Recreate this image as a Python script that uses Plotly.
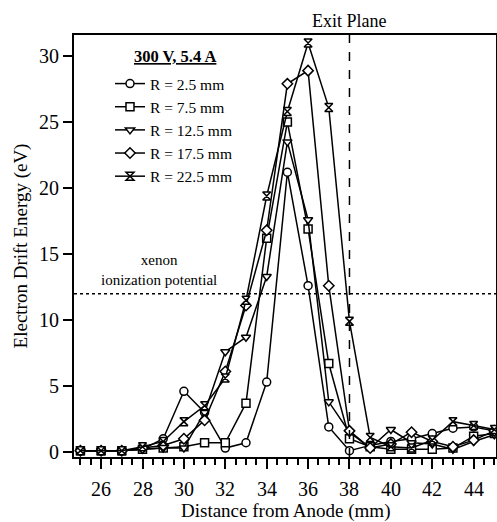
import plotly.graph_objects as go

# Axial position from the anode (mm)
distance_mm = [25, 26, 27, 28, 29, 30, 31, 32, 33, 34, 35, 36, 37, 38, 39, 40, 41, 42, 43, 44, 45]

# Electron drift energy (eV) at each radial location
energy_r2_5 = [0.1, 0.1, 0.1, 0.2, 1.0, 4.6, 3.0, 0.3, 0.7, 5.3, 21.2, 12.6, 1.9, 0.1, 0.5, 0.8, 1.0, 1.4, 1.8, 1.9, 1.6]
energy_r7_5 = [0.1, 0.1, 0.1, 0.2, 0.3, 0.4, 0.7, 0.7, 3.7, 16.2, 25.0, 16.9, 6.7, 1.0, 0.4, 0.2, 0.2, 0.2, 0.3, 1.2, 1.4]
energy_r12_5 = [0.1, 0.1, 0.1, 0.2, 0.3, 0.3, 3.0, 7.6, 8.7, 13.3, 23.5, 17.6, 3.8, 1.5, 0.3, 1.7, 0.7, 0.6, 0.2, 0.8, 1.3]
energy_r17_5 = [0.1, 0.1, 0.1, 0.3, 0.5, 1.0, 2.4, 6.1, 11.1, 16.8, 27.9, 28.9, 12.6, 1.6, 0.3, 0.6, 1.5, 0.8, 0.4, 0.9, 1.6]
energy_r22_5 = [0.1, 0.1, 0.1, 0.4, 0.8, 2.3, 3.5, 5.6, 11.5, 19.4, 25.8, 31.0, 26.1, 9.9, 1.1, 0.4, 0.3, 0.9, 2.3, 2.0, 1.7]

series_names = ["R = 2.5 mm", "R = 7.5 mm", "R = 12.5 mm", "R = 17.5 mm", "R = 22.5 mm"]
series_values = [energy_r2_5, energy_r7_5, energy_r12_5, energy_r17_5, energy_r22_5]
series_symbols = ["circle", "square", "triangle-down", "diamond", "hourglass"]

# Labelled ticks on the distance axis
x_tick_values = [26, 28, 30, 32, 34, 36, 38, 40, 42, 44]

exit_plane_mm = 38
xenon_ionization_ev = 12.0

FONT = "Liberation Serif, Times New Roman, serif"

# Plot-area geometry in pixels (figure is 497 x 522)
M_L, M_R, M_T, M_B = 74, 1, 35, 65
PLOT_H = 522 - M_T - M_B


def py(px_from_top):
    """Convert a pixel row of the figure to paper y."""
    return (522 - M_B - px_from_top) / PLOT_H


fig = go.Figure()
for name, vals, sym in zip(series_names, series_values, series_symbols):
    fig.add_trace(go.Scatter(
        x=distance_mm, y=vals, name=name, mode="lines+markers",
        line=dict(color="black", width=1.5),
        marker=dict(symbol=sym, size=8, color="white",
                    line=dict(color="black", width=1.5)),
        cliponaxis=False,
    ))

# Exit plane (vertical dashed) and xenon ionization potential (horizontal dotted)
fig.add_shape(type="line", xref="x", yref="paper", x0=exit_plane_mm, x1=exit_plane_mm,
              y0=0, y1=1, line=dict(color="black", width=1.5, dash="dash"))
fig.add_shape(type="line", xref="paper", yref="y", x0=0, x1=1,
              y0=xenon_ionization_ev, y1=xenon_ionization_ev,
              line=dict(color="black", width=1.5, dash="dot"))

fig.add_annotation(text="Exit Plane", xref="x", yref="paper", x=exit_plane_mm, y=1,
                   yanchor="bottom", yshift=2, showarrow=False,
                   font=dict(family=FONT, size=18, color="black"))
fig.add_annotation(text="xenon<br>ionization potential", xref="x", yref="y",
                   x=28.8, y=xenon_ionization_ev, yanchor="bottom", yshift=4,
                   showarrow=False, align="center",
                   font=dict(family=FONT, size=15, color="black"))
fig.add_annotation(text="<b><u>300 V, 5.4 A</u></b>", xref="paper", yref="paper",
                   x=(175 - M_L) / 422, y=py(57), xanchor="center", yanchor="middle",
                   showarrow=False, font=dict(family=FONT, size=16.5, color="black"))

# x tick labels sit well below the tick marks
for v in x_tick_values:
    fig.add_annotation(text=str(v), xref="x", yref="paper", x=v, y=py(489),
                       xanchor="center", yanchor="middle", showarrow=False,
                       font=dict(family=FONT, size=20, color="black"))
# x-axis title
fig.add_annotation(text="Distance from Anode (mm)", xref="paper", yref="paper",
                   x=0.5, y=py(511), xanchor="center", yanchor="middle",
                   showarrow=False, font=dict(family=FONT, size=19, color="black"))

fig.update_layout(
    width=497, height=522,
    margin=dict(l=M_L, r=M_R, t=M_T, b=M_B),
    paper_bgcolor="white", plot_bgcolor="white",
    font=dict(family=FONT, size=20, color="black"),
    showlegend=True,
    legend=dict(x=(110 - M_L) / 422, y=py(67), xanchor="left", yanchor="top",
                bgcolor="rgba(0,0,0,0)", font=dict(family=FONT, size=15.5, color="black"),
                tracegroupgap=0, itemwidth=30),
)
fig.update_xaxes(
    range=[24.69, 45.08], tickmode="array", tickvals=x_tick_values,
    showticklabels=False,
    ticks="outside", ticklen=10, tickwidth=2, tickcolor="black",
    minor=dict(dtick=0.5, tick0=25, ticks="outside", ticklen=6, tickwidth=1.5, tickcolor="black"),
    showline=True, linecolor="black", linewidth=2, mirror=True,
    showgrid=False, zeroline=False, automargin=False,
)
fig.update_yaxes(
    range=[-0.38, 31.6], tickmode="linear", tick0=0, dtick=5,
    ticks="outside", ticklen=9, tickwidth=2, tickcolor="black",
    showline=True, linecolor="black", linewidth=2, mirror=True,
    showgrid=False, zeroline=False, automargin=False,
    tickfont=dict(family=FONT, size=20, color="black"),
    title=dict(text="Electron Drift Energy (eV)",
               font=dict(family=FONT, size=19, color="black"), standoff=6),
)

fig.write_html("out.html")
